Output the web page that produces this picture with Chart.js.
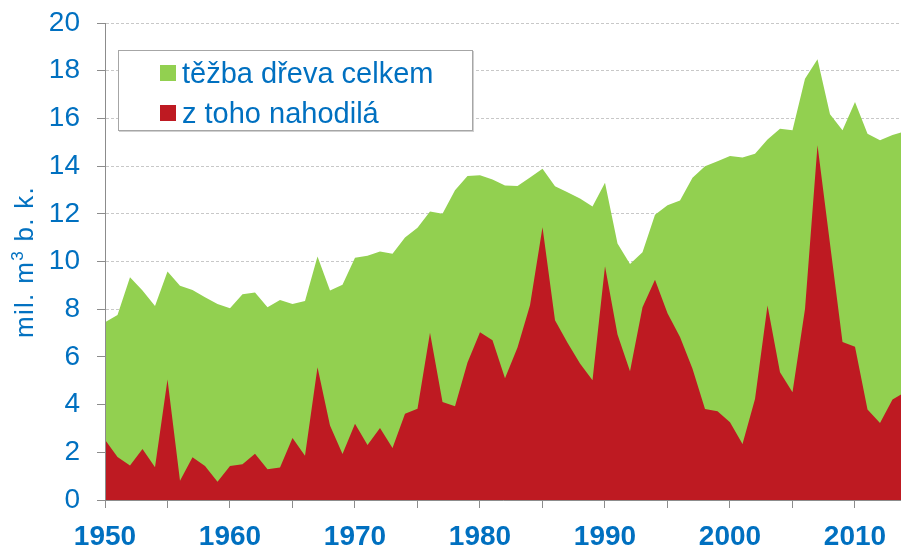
<!DOCTYPE html>
<html>
<head>
<meta charset="utf-8">
<script src="https://cdn.jsdelivr.net/npm/chart.js@4.4.0/dist/chart.umd.min.js"></script>
<style>
  html, body { margin: 0; padding: 0; background: #fff; }
  #wrap { position: relative; width: 901px; height: 547px; overflow: hidden; }
  #c { position: absolute; left: 0; top: 0; }
  #legend {
    position: absolute; left: 118px; top: 50px; width: 353px; height: 79px;
    background: #fff; border: 1px solid #a6a6a6; box-shadow: 1px 1px 0 #d0d0d0;
    font-family: "Liberation Sans", Arial, sans-serif; font-size: 29px; color: #0070C0;
  }
  .item { position: absolute; left: 41px; height: 34px; line-height: 34px; white-space: nowrap; }
  .sw { display: inline-block; width: 16px; height: 16px; vertical-align: middle; margin-right: 6px; position: relative; top: -2px; }
  #ytitle {
    position: absolute; left: 26px; top: 262px; transform: translate(-50%, -50%) rotate(-90deg);
    font-family: "Liberation Sans", Arial, sans-serif; font-size: 26px; letter-spacing: 1.3px;
    color: #0070C0; white-space: nowrap; line-height: 30px;
  }
  #ytitle sup { font-size: 17px; vertical-align: 0; position: relative; top: -10px; }
</style>
</head>
<body>
<div id="wrap">
  <canvas id="c" width="901" height="547"></canvas>
  <div id="legend">
    <div class="item" style="top:5px"><span class="sw" style="background:#92D050"></span><span id="lg0"></span></div>
    <div class="item" style="top:45px"><span class="sw" style="background:#BE1A22"></span><span id="lg1"></span></div>
  </div>
  <div id="ytitle">mil. m<sup>3</sup> b. k.</div>
</div>
<script>
const years = [1950,1951,1952,1953,1954,1955,1956,1957,1958,1959,
               1960,1961,1962,1963,1964,1965,1966,1967,1968,1969,
               1970,1971,1972,1973,1974,1975,1976,1977,1978,1979,
               1980,1981,1982,1983,1984,1985,1986,1987,1988,1989,
               1990,1991,1992,1993,1994,1995,1996,1997,1998,1999,
               2000,2001,2002,2003,2004,2005,2006,2007,2008,2009,
               2010,2011,2012,2013,2014];
const totalHarvest = [7.45,7.76,9.34,8.78,8.13,9.58,8.98,8.81,8.50,8.22,
                      8.04,8.63,8.70,8.08,8.39,8.22,8.34,10.21,8.78,9.03,
                      10.16,10.24,10.42,10.32,11.01,11.41,12.10,12.00,12.99,13.58,
                      13.62,13.44,13.19,13.17,13.52,13.89,13.16,12.90,12.64,12.31,
                      13.30,10.75,9.89,10.39,11.96,12.36,12.56,13.51,13.99,14.20,
                      14.42,14.36,14.52,15.12,15.57,15.50,17.66,18.48,16.17,15.50,
                      16.69,15.36,15.08,15.30,15.46];
const salvageHarvest = [2.53,1.80,1.45,2.14,1.37,5.05,0.81,1.79,1.43,0.76,
                        1.43,1.50,1.94,1.29,1.36,2.60,1.86,5.57,3.12,1.93,
                        3.20,2.31,3.02,2.18,3.62,3.83,7.01,4.11,3.93,5.76,
                        7.03,6.70,5.10,6.39,8.17,11.44,7.54,6.59,5.72,5.02,
                        9.80,6.94,5.40,8.08,9.24,7.83,6.83,5.50,3.82,3.72,
                        3.26,2.35,4.24,8.15,5.36,4.52,8.01,14.87,10.74,6.62,
                        6.43,3.79,3.23,4.21,4.52];
const seriesNames = ["těžba dřeva celkem", "z toho nahodilá"];
const xTicks = [1950,1955,1960,1965,1970,1975,1980,1985,1990,1995,2000,2005,2010];

document.getElementById("lg0").textContent = seriesNames[0];
document.getElementById("lg1").textContent = seriesNames[1];

const BLUE = "#0070C0";
const FONT = "'Liberation Sans', Arial, sans-serif";

const toPts = arr => years.map((y, i) => ({x: y, y: arr[i]}));

new Chart(document.getElementById("c"), {
  type: "line",
  data: {
    datasets: [
      { label: seriesNames[1], data: toPts(salvageHarvest), fill: "origin",
        backgroundColor: "#BE1A22", borderWidth: 0, pointRadius: 0, tension: 0, order: 0 },
      { label: seriesNames[0], data: toPts(totalHarvest), fill: "origin",
        backgroundColor: "#92D050", borderWidth: 0, pointRadius: 0, tension: 0, order: 1 }
    ]
  },
  options: {
    responsive: false,
    animation: false,
    devicePixelRatio: 1,
    layout: { padding: { top: 23, right: 0, left: 0, bottom: 0 } },
    plugins: { legend: { display: false }, tooltip: { enabled: false } },
    scales: {
      x: {
        type: "linear", min: 1950, max: 2013.68,
        afterBuildTicks: s => { s.ticks = xTicks.map(v => ({value: v})); },
        afterFit: s => { s.height = 47; s.paddingLeft = 0; s.paddingRight = 0; },
        ticks: { autoSkip: false, maxRotation: 0, padding: 12, color: BLUE,
                 font: { family: FONT, size: 28, weight: "bold" },
                 callback: v => (v % 10 === 0 ? String(v) : "") },
        grid: { drawOnChartArea: false, drawTicks: true, tickLength: 8, tickColor: "#8c8c8c", tickWidth: 1 },
        border: { display: true, color: "#8c8c8c", width: 1, z: 1 }
      },
      y: {
        min: 0, max: 20,
        afterFit: s => { s.width = 105; s.paddingTop = 0; s.paddingBottom = 0; },
        ticks: { stepSize: 2, padding: 17, color: BLUE, font: { family: FONT, size: 28 } },
        grid: { color: "#c8c8c8", lineWidth: 1, tickLength: 8, tickColor: "#8c8c8c", tickWidth: 1,
                borderDash: [3, 2], tickBorderDash: [] },
        border: { display: true, color: "#8c8c8c", width: 1, dash: [3, 2], z: 1 },
        title: { display: false }
      }
    }
  }
});
</script>
</body>
</html>
